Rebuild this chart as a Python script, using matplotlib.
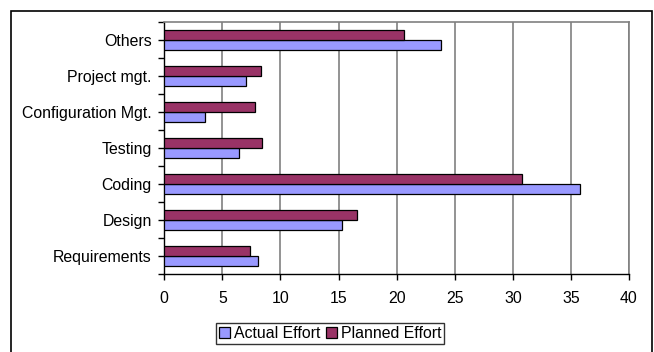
import matplotlib
matplotlib.use("Agg")
import matplotlib.pyplot as plt
import numpy as np
from matplotlib.patches import Rectangle

categories = ["Requirements", "Design", "Coding", "Testing",
              "Configuration Mgt.", "Project mgt.", "Others"]
actual_effort = [8.06, 15.3, 35.8, 6.45, 3.47, 7.0, 23.85]
planned_effort = [7.35, 16.6, 30.75, 8.4, 7.85, 8.35, 20.65]
x_ticks = [0, 5, 10, 15, 20, 25, 30, 35, 40]

plt.rcParams['font.family'] = ['Liberation Sans', 'DejaVu Sans']
FS = 11.4

fig = plt.figure(figsize=(6.54, 3.52), dpi=100)
ax = fig.add_axes([164.3/654, 1-274/352, (629-164.3)/654, (274-22)/352])

y = np.arange(len(categories))
h = 0.286
ax.barh(y - h/2, actual_effort, height=h, color="#9999FF", edgecolor="black",
        linewidth=0.9, label="Actual Effort", zorder=3)
ax.barh(y + h/2, planned_effort, height=h, color="#993366", edgecolor="black",
        linewidth=0.9, label="Planned Effort", zorder=3)

ax.set_xlim(0, 40)
ax.set_ylim(-0.5, len(categories) - 0.5)
ax.set_xticks(x_ticks)
ax.set_xticklabels([str(t) for t in x_ticks], fontsize=FS)
ax.set_yticks(y)
ax.set_yticklabels(categories, fontsize=FS)
ax.set_yticks(np.arange(-0.5, len(categories), 1), minor=True)
ax.tick_params(axis='y', which='both', length=4, width=1, color='black', direction='out', pad=5)
ax.tick_params(axis='x', which='major', length=4, width=1, color='black', direction='out', pad=8.5)

ax.grid(axis='x', color='#808080', linewidth=1.2, zorder=0)
for s in ['top', 'right']:
    ax.spines[s].set_color('#808080')
    ax.spines[s].set_linewidth(1.2)
for s in ['left', 'bottom']:
    ax.spines[s].set_color('black')
    ax.spines[s].set_linewidth(1)

leg = ax.legend(loc='center', bbox_to_anchor=(330/654, 1-333.5/352),
                bbox_transform=fig.transFigure, ncol=2, frameon=True,
                fancybox=False, edgecolor='black', fontsize=FS,
                handlelength=0.7, handleheight=0.7, handletextpad=0.25,
                columnspacing=0.35, borderpad=0.2, borderaxespad=0)
leg.get_frame().set_linewidth(1)

fig.patches.append(Rectangle((11/654, -0.05), (652-11)/654, 1.05 - 11/352,
                             transform=fig.transFigure, fill=False,
                             edgecolor='black', linewidth=1.2))

fig.savefig("out.png", dpi=100)
